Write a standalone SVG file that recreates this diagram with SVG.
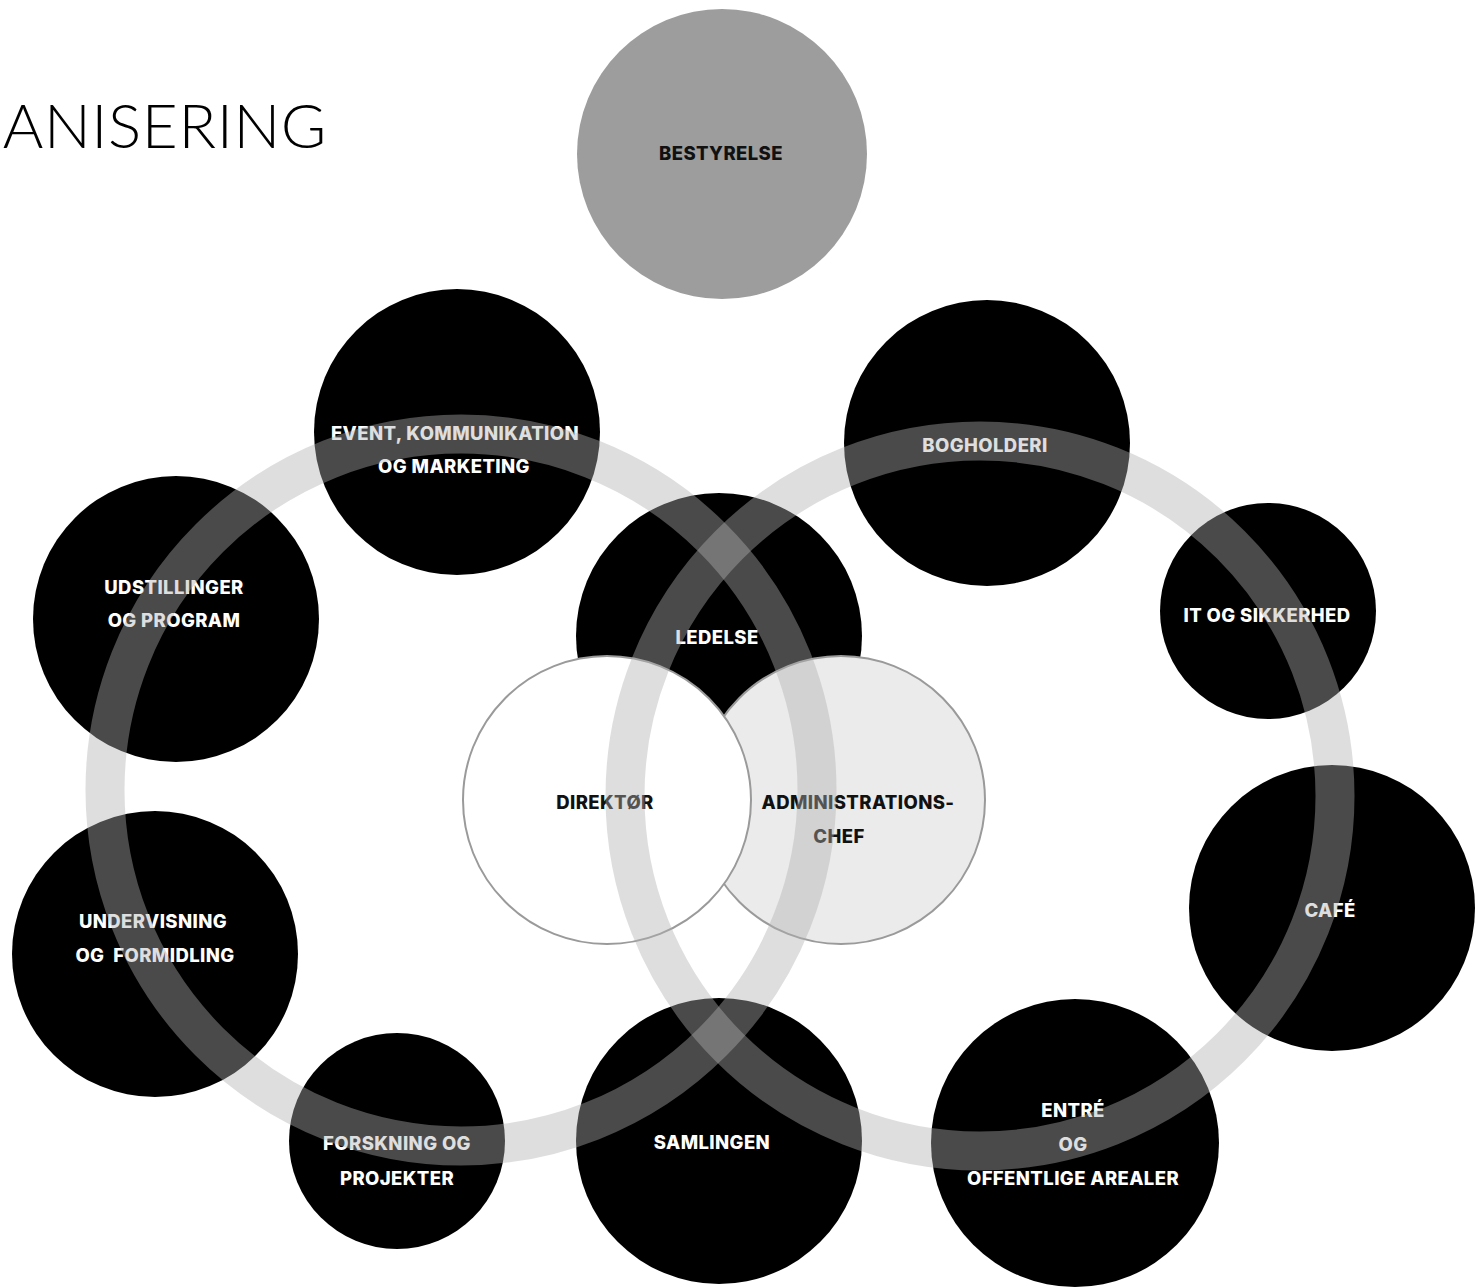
<svg xmlns="http://www.w3.org/2000/svg" width="1476" height="1287" viewBox="0 0 1476 1287">
<style>
.node{fill:#000}
.lbl{font-family:Inter,Lato,"Liberation Sans",sans-serif;font-weight:800;font-size:18.5px;letter-spacing:0.4px;text-anchor:middle;fill:#fff}
.dark{fill:#111}
.title{font-family:Lato,"Liberation Sans",sans-serif;font-weight:300;font-size:62px;letter-spacing:0.6px;fill:#000}
.ring{fill:none;stroke:#b0b0b0;stroke-opacity:0.42;stroke-width:39}
</style>
<rect width="1476" height="1287" fill="#fff"/>
<text class="title" x="327" y="148" text-anchor="end">ORGANISERING</text>

<g id="bestyrelse"><circle cx="722" cy="154" r="145" fill="#9d9d9d"/><text class="lbl dark" x="721" y="160">BESTYRELSE</text></g>
<g id="event"><circle class="node" cx="457" cy="432" r="143"/><text class="lbl" x="455" y="440">EVENT, KOMMUNIKATION</text><text class="lbl" x="454" y="473">OG MARKETING</text></g>
<g id="bogholderi"><circle class="node" cx="987" cy="443" r="143"/><text class="lbl" x="985" y="452">BOGHOLDERI</text></g>
<g id="udstillinger"><circle class="node" cx="176" cy="619" r="143"/><text class="lbl" x="174" y="594">UDSTILLINGER</text><text class="lbl" x="174" y="627">OG PROGRAM</text></g>
<g id="ledelse"><circle class="node" cx="719" cy="636" r="143"/><text class="lbl" x="717" y="644">LEDELSE</text></g>
<g id="it"><circle class="node" cx="1268" cy="611" r="108"/><text class="lbl" x="1267" y="622">IT OG SIKKERHED</text></g>
<g id="admin"><circle cx="841" cy="800" r="144" fill="#ebebeb" stroke="#9a9a9a" stroke-width="2"/><text class="lbl dark" x="858" y="809">ADMINISTRATIONS-</text><text class="lbl dark" x="839" y="843">CHEF</text></g>
<g id="direktor"><circle cx="607" cy="800" r="144" fill="#fff" stroke="#9a9a9a" stroke-width="2"/><text class="lbl dark" x="605" y="809">DIREKTØR</text></g>
<g id="cafe"><circle class="node" cx="1332" cy="908" r="143"/><text class="lbl" x="1330" y="917">CAFÉ</text></g>
<g id="undervisning"><circle class="node" cx="155" cy="954" r="143"/><text class="lbl" x="153" y="928">UNDERVISNING</text><text class="lbl" x="155" y="962" style="white-space:pre">OG  FORMIDLING</text></g>
<g id="forskning"><circle class="node" cx="397" cy="1141" r="108"/><text class="lbl" x="397" y="1150">FORSKNING OG</text><text class="lbl" x="397" y="1185">PROJEKTER</text></g>
<g id="samlingen"><circle class="node" cx="719" cy="1141" r="143"/><text class="lbl" x="712" y="1149">SAMLINGEN</text></g>
<g id="entre"><circle class="node" cx="1075" cy="1143" r="144"/><text class="lbl" x="1073" y="1117">ENTRÉ</text><text class="lbl" x="1073" y="1151">OG</text><text class="lbl" x="1073" y="1185">OFFENTLIGE AREALER</text></g>

<g id="connectors">
<circle class="ring" cx="461" cy="790" r="356"/>
<circle class="ring" cx="980" cy="796" r="355"/>
</g>
</svg>
